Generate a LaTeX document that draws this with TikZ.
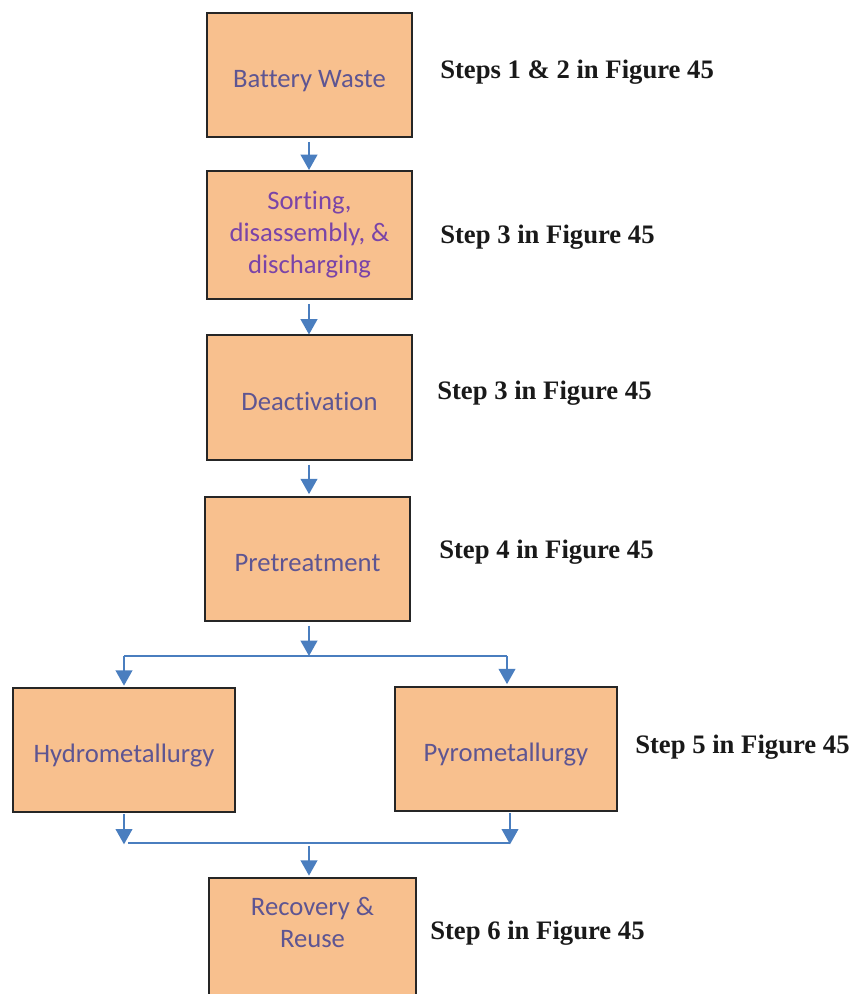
\documentclass[tikz,border=0pt]{standalone}
\usepackage{fontspec}
\setmainfont{Liberation Serif}
\newfontfamily\boxfont{Carlito}[Ligatures=CommonOff]
\usetikzlibrary{arrows.meta}
\definecolor{boxfill}{HTML}{F8C08E}
\definecolor{boxtext}{HTML}{5E5592}
\definecolor{sorttext}{HTML}{7A44A8}
\definecolor{flowblue}{HTML}{4A7EBF}

\begin{document}
\begin{tikzpicture}[x=0.75pt,y=-0.75pt,
box/.style={draw=black!85, line width=1.5pt, fill=boxfill, align=center,
  minimum width=153.75pt, minimum height=93pt, inner sep=0pt,
  text=boxtext, font=\boxfont\fontsize{20}{24}\selectfont},
oneline/.style={box, text height=19pt, text depth=0pt},
flow/.style={draw=flowblue, line width=1.5pt, -{Triangle[width=12.5pt,length=11.5pt]}},
link/.style={draw=flowblue, line width=1.5pt},
steplabel/.style={anchor=west, inner sep=0pt, text=black!90,
  font=\bfseries\fontsize{20}{24}\selectfont}
]
\useasboundingbox (0,0) rectangle (851,994);

% boxes
\node[oneline] (waste) at (309.5,75) {Battery Waste};
\node[box, minimum height=96pt, text=sorttext] (sort) at (309.5,235) {Sorting,\\disassembly, \&\\discharging};
\node[oneline] (deact) at (309.5,397.5) {Deactivation};
\node[oneline] (pretreat) at (307.5,558.5) {Pretreatment};
\node[oneline, minimum width=166.5pt] (hydro) at (124,750) {Hydrometallurgy};
\node[oneline, minimum width=166.5pt] (pyro) at (506,748.5) {Pyrometallurgy};
\node[box, minimum width=155.25pt, anchor=north] (recover) at (312.5,877) {Recovery \&\\Reuse\\[-5pt]\strut};

% labels
\node[steplabel] (lab1) at (440,72) {Steps 1 \& 2 in Figure 45};
\node[steplabel] (lab2) at (440,237) {Step 3 in Figure 45};
\node[steplabel] (lab3) at (437,393) {Step 3 in Figure 45};
\node[steplabel] (lab4) at (439,552) {Step 4 in Figure 45};
\node[steplabel] (lab5) at (635,747) {Step 5 in Figure 45};
\node[steplabel] (lab6) at (430,933) {Step 6 in Figure 45};

% column, split and merge points
\coordinate (colC) at (309,0);
\coordinate (splitL) at (124,656);
\coordinate (splitR) at (507,656);
\coordinate (mergeL) at (128,843);
\coordinate (mergeR) at (510,843);

% connectors
\draw[flow] ([yshift=-3pt]waste.south -| colC) -- (sort.north -| colC);
\draw[flow] ([yshift=-3pt]sort.south -| colC) -- (deact.north -| colC);
\draw[flow] ([yshift=-3pt]deact.south -| colC) -- ([yshift=1pt]pretreat.north -| colC);
\draw[flow] ([yshift=-3pt]pretreat.south -| colC) -- (splitL -| colC);
\draw[link] (splitL) -- (splitR);
\draw[flow] (splitL) -- ([yshift=1pt]hydro.north -| splitL);
\draw[flow] (splitR) -- ([yshift=1pt]pyro.north -| splitR);
\draw[flow] ([yshift=-1pt]hydro.south -| splitL) -- ([yshift=-1pt]mergeL -| splitL);
\draw[flow] ([yshift=-1pt]pyro.south -| mergeR) -- ([yshift=-1pt]mergeR);
\draw[link] (mergeL) -- (mergeR);
\draw[flow] ([yshift=-2pt]mergeL -| colC) -- ([yshift=1pt]recover.north -| colC);

\end{tikzpicture}
\end{document}
